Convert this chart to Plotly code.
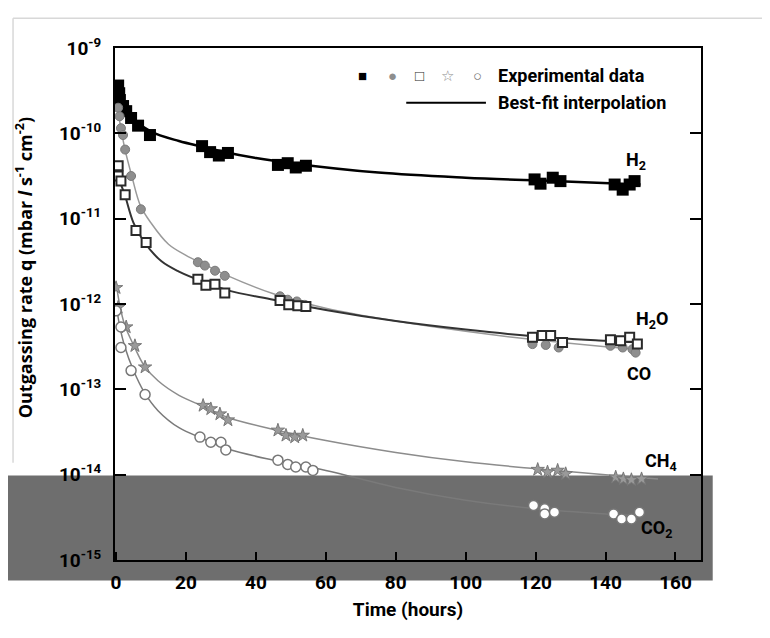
""" Outgassing rate chart """
import plotly.graph_objects as go

# ---- data ----
# hours / log10(q)
h2_t = [0.6, 0.9, 1.1, 2.0, 2.9, 4.3, 6.3, 9.7, 24.6, 26.9, 29.4, 32.0, 46.3, 49.1, 51.4, 54.3,
        119.7, 121.4, 124.9, 127.1, 142.6, 144.9, 146.9, 148.3]
h2_q = [-9.44, -9.53, -9.61, -9.68, -9.74, -9.82, -9.91, -10.02, -10.15, -10.22, -10.26, -10.23,
        -10.37, -10.35, -10.40, -10.38, -10.54, -10.59, -10.52, -10.56, -10.60, -10.66, -10.60, -10.56]
h2_fit_t = [0.3, 2, 5, 10, 18, 25, 30, 40, 50, 75, 100, 125, 150]
h2_fit_q = [-9.42, -9.66, -9.83, -9.98, -10.09, -10.16, -10.21, -10.29, -10.35, -10.46, -10.52, -10.56, -10.60]

h2o_t = [0.6, 1.0, 1.4, 2.0, 2.6, 4.3, 7.1, 23.4, 25.4, 28.3, 31.1, 46.9, 49.1, 51.7, 54.0,
         119.1, 122.9, 126.6, 141.4, 144.9, 147.7, 148.6]
h2o_q = [-9.70, -9.80, -9.94, -10.02, -10.19, -10.50, -10.89, -11.51, -11.55, -11.61, -11.67,
         -11.91, -11.95, -11.97, -12.01, -12.47, -12.48, -12.51, -12.49, -12.51, -12.53, -12.57]
h2o_fit_t = [0.3, 1, 2.5, 4.5, 7, 10, 15, 20, 25, 32, 45, 60, 80, 100, 120, 140, 150]
h2o_fit_q = [-9.70, -9.85, -10.18, -10.50, -10.85, -11.05, -11.30, -11.43, -11.53, -11.67, -11.88,
             -12.05, -12.20, -12.32, -12.42, -12.50, -12.53]

co_t = [0.6, 0.6, 1.4, 2.6, 5.7, 8.6, 23.4, 25.7, 28.3, 31.1, 46.9, 49.4, 52.0, 54.3,
        119.1, 121.9, 124.3, 127.7, 141.4, 144.3, 146.9, 149.1]
co_q = [-10.38, -10.50, -10.56, -10.72, -11.14, -11.28, -11.71, -11.78, -11.77, -11.87,
        -11.96, -12.01, -12.02, -12.03, -12.39, -12.37, -12.37, -12.45, -12.42, -12.43, -12.39, -12.47]
co_fit_t = [0.3, 1, 2.5, 5, 8, 13, 18, 25, 32, 45, 60, 80, 100, 120, 140, 150]
co_fit_q = [-10.40, -10.55, -10.72, -11.05, -11.27, -11.50, -11.62, -11.74, -11.84, -11.95, -12.07,
            -12.20, -12.30, -12.38, -12.43, -12.45]

ch4_t = [0.0, 0.6, 2.9, 5.4, 8.3, 24.9, 27.1, 29.7, 32.0, 46.3, 48.6, 51.1, 53.4,
         120.6, 123.4, 126.3, 128.6, 142.9, 145.1, 147.4, 150.3]
ch4_q = [-11.81, -12.04, -12.27, -12.49, -12.74, -13.19, -13.23, -13.29, -13.36, -13.48, -13.54,
         -13.56, -13.54, -13.94, -13.97, -13.95, -13.99, -14.03, -14.05, -14.06, -14.05]
ch4_fit_t = [0, 1, 2.5, 5, 8, 12, 18, 25, 32, 45, 60, 80, 100, 120, 140, 155]
ch4_fit_q = [-11.75, -12.00, -12.25, -12.48, -12.72, -12.90, -13.07, -13.20, -13.33, -13.47, -13.60,
             -13.74, -13.85, -13.93, -14.00, -14.05]

co2_t = [0.0, 1.4, 1.4, 4.3, 8.3, 24.0, 27.1, 30.0, 31.4, 46.3, 49.1, 51.4, 54.3, 56.3,
         119.4, 122.6, 122.6, 125.4, 142.3, 144.6, 147.4, 149.7]
co2_q = [-12.08, -12.27, -12.51, -12.78, -13.06, -13.56, -13.62, -13.62, -13.71, -13.83, -13.88,
         -13.91, -13.91, -13.95, -14.36, -14.40, -14.46, -14.44, -14.46, -14.52, -14.52, -14.44]
co2_fit_t = [0, 1, 2.5, 5, 8, 12, 18, 25, 32, 45, 60, 80, 100, 120, 140, 150]
co2_fit_q = [-12.00, -12.25, -12.50, -12.78, -13.03, -13.25, -13.45, -13.58, -13.70, -13.83, -13.95,
             -14.15, -14.30, -14.40, -14.46, -14.48]

x_ticks = [0, 20, 40, 60, 80, 100, 120, 140, 160]
y_exps = [-9, -10, -11, -12, -13, -14, -15]

# curve labels: text, hour, log10(q)
gas_labels = [("H<sub>2</sub>", 148.6, -10.32), ("H<sub>2</sub>O", 153.4, -12.19),
              ("CO", 149.7, -12.82), ("CH<sub>4</sub>", 156.0, -13.85),
              ("CO<sub>2</sub>", 154.6, -14.64)]

COND = "Roboto, Lato, sans-serif"


def tolin(v):
    return [10 ** a for a in v]


fig = go.Figure()

series = [
    (h2_fit_t, h2_fit_q, "black", 2.5),
    (h2o_fit_t, h2o_fit_q, "#9a9a9a", 1.5),
    (co_fit_t, co_fit_q, "#333333", 2),
    (ch4_fit_t, ch4_fit_q, "#8c8c8c", 1.5),
    (co2_fit_t, co2_fit_q, "#7a7a7a", 1.5),
]
for t, q, c, w in series:
    fig.add_trace(go.Scatter(x=t, y=tolin(q), mode="lines", line=dict(color=c, width=w, shape="spline"),
                             showlegend=False, hoverinfo="skip"))

fig.add_trace(go.Scatter(x=h2_t, y=tolin(h2_q), mode="markers",
                         marker=dict(symbol="square", size=12, color="black"), showlegend=False))
fig.add_trace(go.Scatter(x=h2o_t, y=tolin(h2o_q), mode="markers",
                         marker=dict(symbol="circle", size=9, color="#8e8e8e",
                                     line=dict(color="#7a7a7a", width=1)), showlegend=False))
fig.add_trace(go.Scatter(x=co_t, y=tolin(co_q), mode="markers",
                         marker=dict(symbol="square", size=9, color="white",
                                     line=dict(color="#2a2a2a", width=2)), showlegend=False))
fig.add_trace(go.Scatter(x=ch4_t, y=tolin(ch4_q), mode="markers",
                         marker=dict(symbol="star", size=10, color="#9a9a9a",
                                     line=dict(color="#777777", width=1)), showlegend=False))
fig.add_trace(go.Scatter(x=co2_t, y=tolin(co2_q), mode="markers",
                         marker=dict(symbol="circle", size=10, color="white",
                                     line=dict(color="#777777", width=1.5)), showlegend=False))

# gas labels
for txt, t, q in gas_labels:
    fig.add_annotation(x=t, y=q, text=f"<b>{txt}</b>", showarrow=False, xanchor="center", yanchor="middle",
                       font=dict(family=COND, size=18, color="black"))

# legend (drawn by hand, as in the figure)
legend_syms = [("\u25A0", "black", 0.423), ("\u25CF", "#8e8e8e", 0.474), ("\u25A1", "#2a2a2a", 0.520),
               ("\u2606", "#8c8c8c", 0.568), ("\u25CB", "#777777", 0.619)]
for s, c, px in legend_syms:
    fig.add_annotation(xref="paper", yref="paper", x=px, y=0.947, text=s, showarrow=False,
                       font=dict(size=15, color=c), xanchor="center", yanchor="middle")
fig.add_annotation(xref="paper", yref="paper", x=0.650, y=0.947, text="<b>Experimental data</b>",
                   showarrow=False, xanchor="left", yanchor="middle", font=dict(family=COND, size=18, color="black"))
fig.add_annotation(xref="paper", yref="paper", x=0.650, y=0.893, text="<b>Best-fit interpolation</b>",
                   showarrow=False, xanchor="left", yanchor="middle", font=dict(family=COND, size=18, color="black"))
fig.add_shape(type="line", xref="paper", yref="paper", x0=0.497, x1=0.633, y0=0.893, y1=0.893,
              line=dict(color="black", width=2))

# y title
fig.add_annotation(xref="paper", yref="paper", x=-0.155, y=0.57, textangle=-90, showarrow=False,
                   text="<b>Outgassing rate q (mbar <i>l</i> s<sup>-1</sup> cm<sup>-2</sup>)</b>",
                   xanchor="center", yanchor="middle",
                   font=dict(family="Open Sans, DejaVu Sans, sans-serif", size=18, color="black"))

# faint scan frame and grey scan band
fig.add_shape(type="line", xref="paper", yref="paper", x0=-0.174, x1=1.15, y0=1.058, y1=1.058,
              line=dict(color="#d8d8d8", width=1.5))
fig.add_shape(type="line", xref="paper", yref="paper", x0=-0.174, x1=-0.174, y0=0.19, y1=1.058,
              line=dict(color="#d8d8d8", width=1.5))
fig.add_shape(type="rect", xref="paper", yref="paper", x0=-0.183, x1=1.02, y0=-0.04, y1=0.165,
              fillcolor="#6e6e6e", line=dict(width=0), layer="below")

fig.update_xaxes(range=[-0.3, 167.3], tickvals=x_ticks, ticktext=[f"<b>{v}</b>" for v in x_ticks],
                 ticks="inside", ticklen=8, tickwidth=2, tickcolor="black",
                 showline=True, linecolor="black", linewidth=2, mirror=True,
                 showgrid=False, zeroline=False, ticklabelstandoff=4,
                 tickfont=dict(family=COND, size=19, color="black"),
                 title=dict(text="<b>Time (hours)</b>", standoff=10,
                            font=dict(family=COND, size=19, color="black")))
fig.update_yaxes(type="log", range=[-15, -9], tickvals=[10 ** e for e in y_exps],
                 ticktext=[f"<b>10<sup>{e}</sup></b>" for e in y_exps],
                 ticks="inside", ticklen=11, tickwidth=2, tickcolor="black",
                 showline=True, linecolor="black", linewidth=2, mirror="ticks",
                 showgrid=False, zeroline=False, ticklabelstandoff=8,
                 tickfont=dict(family=COND, size=19, color="black"))

fig.update_layout(width=770, height=638, margin=dict(l=107, r=77, t=40, b=86),
                  plot_bgcolor="white", paper_bgcolor="white", showlegend=False)

fig.write_html("out.html")
